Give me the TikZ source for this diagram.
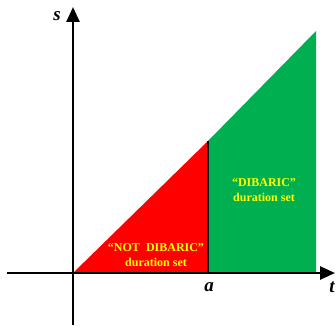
\documentclass[tikz,border=0pt]{standalone}
\usepackage{fontspec}
\setmainfont{Liberation Serif}
\usetikzlibrary{arrows.meta}
\definecolor{gr}{HTML}{00B050}
\definecolor{yl}{HTML}{FFFF00}
\tikzset{
  axis/.style={line width=2.6pt,-{Triangle[length=15pt,width=13pt]}},
  lab/.style={font=\fontsize{19}{19}\selectfont\bfseries\itshape,inner sep=0pt},
  inlab/.style={font=\fontsize{12}{15}\selectfont\bfseries,text=yl,align=center,inner sep=0pt}
}
\begin{document}
\begin{tikzpicture}[x=1pt,y=1pt]
\useasboundingbox (0,0) rectangle (336,327);
\coordinate (O) at (73,54);
\coordinate (A) at (208,54);
\coordinate (P) at (208,186);
\coordinate (Q) at (316,296);
\coordinate (R) at (316,54);
\fill[red] (O) -- (P) -- (A) -- cycle;
\fill[gr] (P) -- (Q) -- (R) -- (A) -- cycle;
\draw[line width=2pt] (P) -- (A);
\coordinate (xs) at (7,54);
\coordinate (xe) at (335,54);
\coordinate (ys) at (73,2);
\coordinate (ye) at (73,320);
\draw[axis] (xs) -- (xe);
\draw[axis] (ys) -- (ye);
\node[lab] (s) at (57,311) {s};
\node[lab] (t) at (332,40) {t};
\node[lab] (a) at (209,40) {a};
\node[inlab] (nd) at (156,72) {“NOT\ \ DIBARIC”\\duration set};
\node[inlab] (d) at (264,137) {“DIBARIC”\\duration set};
\end{tikzpicture}
\end{document}
